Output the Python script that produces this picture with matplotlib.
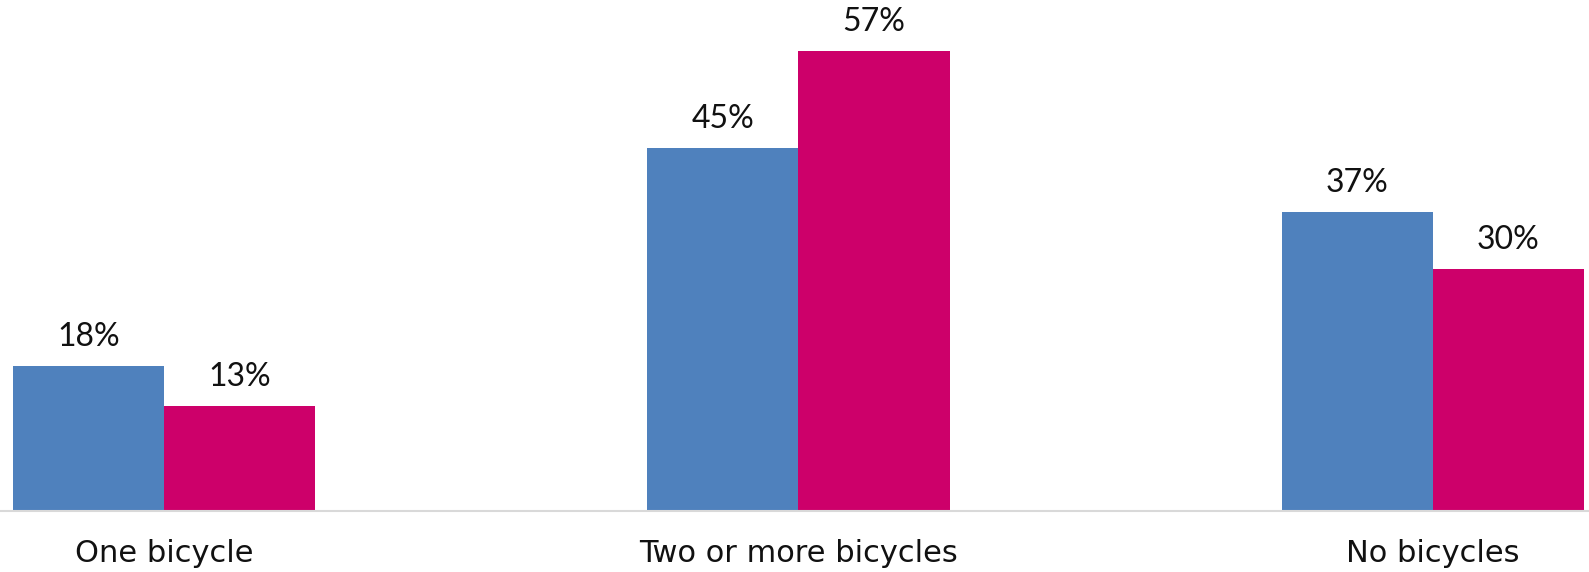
import numpy as np
import matplotlib.pyplot as plt

categories = ['One bicycle', 'Two or more bicycles', 'No bicycles']
series_a = [18, 45, 37]
series_b = [13, 57, 30]
labels_a = ['18%', '45%', '37%']
labels_b = ['13%', '57%', '30%']

blue = '#4F81BD'
pink = '#CD006A'

plt.rcParams['font.family'] = ['Lato', 'DejaVu Sans']

fig = plt.figure(figsize=(15.89, 5.72), dpi=100)
ax = fig.add_axes([0, 0.1066, 1, 0.8934])

x = np.arange(len(categories))
w = 0.238
bars_a = ax.bar(x - w / 2, series_a, w, color=blue, linewidth=0)
bars_b = ax.bar(x + w / 2, series_b, w, color=pink, linewidth=0)

for bars, labs in ((bars_a, labels_a), (bars_b, labels_b)):
    for b, lab in zip(bars, labs):
        ax.annotate(lab, (b.get_x() + b.get_width() / 2, b.get_height()),
                    xytext=(0, 10), textcoords='offset points',
                    ha='center', va='bottom', fontsize=23, color='#111111')

ax.set_xlim(-0.2585, 2.2459)
ax.set_ylim(0, 63.3)
ax.set_xticks(x)
ax.set_xticklabels(categories, fontsize=22, color='#111111', family='DejaVu Sans')
ax.tick_params(axis='x', length=0, pad=20)
ax.set_yticks([])
for s in ['top', 'right', 'left']:
    ax.spines[s].set_visible(False)
ax.spines['bottom'].set_color('#D9D9D9')
ax.spines['bottom'].set_linewidth(1.5)

fig.savefig('out.png', dpi=100)
